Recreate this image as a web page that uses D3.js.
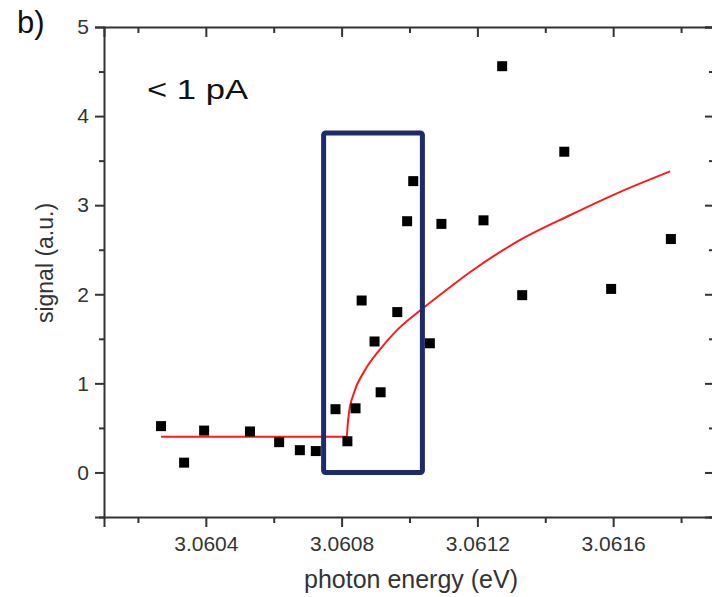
<!DOCTYPE html>
<html lang="en">
<head>
    <meta charset="UTF-8">
</head>
<style>
    body{
        margin:0;
        width:712px;
        height:597px;
        background:#fff;
        font-family:"Liberation Sans", Arial, sans-serif;
    }
    #chart{
        width:712px;
        height:597px;
        display:block;
    }
    .axis path, .axis line{
        stroke:#333;
        stroke-width:2;
    }
    .axis text{
        fill:#333;
        font-size:21px;
        font-family:"Liberation Sans", Arial, sans-serif;
    }
    .pt{
        fill:#000;
    }
</style>
<script src="https://d3js.org/d3.v7.min.js"></script>
<script>
    // measured points: photon energy (eV) and signal (a.u.)
    var energy = [3.060268, 3.060336, 3.060395, 3.060530, 3.060616, 3.060677, 3.060724,
        3.060782, 3.060817, 3.060841, 3.060859, 3.060897, 3.060915, 3.060964, 3.060993,
        3.061011, 3.061060, 3.061094, 3.061218, 3.061273, 3.061332, 3.061456, 3.061594, 3.061770];
    var signal = [0.52, 0.11, 0.47, 0.46, 0.34, 0.25, 0.24,
        0.71, 0.35, 0.72, 1.93, 1.47, 0.90, 1.80, 2.82,
        3.27, 1.45, 2.79, 2.83, 4.56, 1.99, 3.60, 2.06, 2.62];

    // fit curve
    var fitEnergy = [3.060268, 3.060815, 3.060818, 3.060821, 3.060836, 3.060866, 3.060915,
        3.060964, 3.061032, 3.061116, 3.061179, 3.061326, 3.061474, 3.061621, 3.061768];
    var fitSignal = [0.40, 0.40, 0.54, 0.65, 0.89, 1.13, 1.39,
        1.60, 1.82, 2.07, 2.25, 2.61, 2.89, 3.15, 3.38];

    // highlighted window
    var boxEnergy = [3.060747, 3.061038];
    var boxSignal = [0.0, 3.81];

    var xMajor = [3.0604, 3.0608, 3.0612, 3.0616];
    var xMinor = [3.0602, 3.0606, 3.0610, 3.0614, 3.0618];
    var yMajor = [0, 1, 2, 3, 4, 5];
    var yMinor = [-0.5, 0.5, 1.5, 2.5, 3.5, 4.5];

    function init() {
        var left = 104, right = 715, top = 27, bottom = 517;

        var svg = d3.select("#chart");

        var x = d3.scaleLinear().domain([3.0601, 3.0619]).range([left, right]);
        var y = d3.scaleLinear().domain([-0.5, 5]).range([bottom, top]);

        // bottom axis
        svg.append("g").attr("class", "axis")
            .attr("transform", "translate(0," + bottom + ")")
            .call(d3.axisBottom(x).tickValues(xMajor).tickSizeOuter(0).tickSize(10).tickPadding(9)
                .tickFormat(d3.format(".4f")));
        svg.append("g").attr("class", "axis")
            .attr("transform", "translate(0," + bottom + ")")
            .call(d3.axisBottom(x).tickValues(xMinor).tickSizeOuter(0).tickSize(6).tickFormat(""))
            .select(".domain").remove();

        // top axis, ticks inward
        svg.append("g").attr("class", "axis")
            .attr("transform", "translate(0," + top + ")")
            .call(d3.axisTop(x).tickValues(xMajor).tickSizeOuter(0).tickSize(-10).tickFormat(""));
        svg.append("g").attr("class", "axis")
            .attr("transform", "translate(0," + top + ")")
            .call(d3.axisTop(x).tickValues(xMinor).tickSizeOuter(0).tickSize(-6).tickFormat(""))
            .select(".domain").remove();

        // left axis
        svg.append("g").attr("class", "axis")
            .attr("transform", "translate(" + left + ",0)")
            .call(d3.axisLeft(y).tickValues(yMajor).tickSizeOuter(0).tickSize(9).tickPadding(6)
                .tickFormat(d3.format("d")));
        svg.append("g").attr("class", "axis")
            .attr("transform", "translate(" + left + ",0)")
            .call(d3.axisLeft(y).tickValues(yMinor).tickSizeOuter(0).tickSize(5).tickFormat(""))
            .select(".domain").remove();

        // right axis, ticks inward
        svg.append("g").attr("class", "axis")
            .attr("transform", "translate(" + right + ",0)")
            .call(d3.axisRight(y).tickValues(yMajor).tickSizeOuter(0).tickSize(-10).tickFormat(""));
        svg.append("g").attr("class", "axis")
            .attr("transform", "translate(" + right + ",0)")
            .call(d3.axisRight(y).tickValues(yMinor).tickSizeOuter(0).tickSize(-6).tickFormat(""))
            .select(".domain").remove();

        // fit line
        var fit = d3.range(fitEnergy.length).map(function(i) { return [fitEnergy[i], fitSignal[i]]; });
        svg.append("path")
            .datum(fit)
            .attr("fill", "none")
            .attr("stroke", "#ff1a1a")
            .attr("stroke-width", 2)
            .attr("d", d3.line()
                .x(function(d) { return x(d[0]); })
                .y(function(d) { return y(d[1]); })
                .curve(d3.curveMonotoneX));

        // points
        var pts = d3.range(energy.length).map(function(i) { return [energy[i], signal[i]]; });
        svg.selectAll(".pt")
            .data(pts)
            .enter().append("rect")
            .attr("class", "pt")
            .attr("x", function(d) { return x(d[0]) - 5; })
            .attr("y", function(d) { return y(d[1]) - 5; })
            .attr("width", 10)
            .attr("height", 10);

        // highlight box
        svg.append("rect")
            .attr("x", x(boxEnergy[0]))
            .attr("y", y(boxSignal[1]))
            .attr("width", x(boxEnergy[1]) - x(boxEnergy[0]))
            .attr("height", y(boxSignal[0]) - y(boxSignal[1]))
            .attr("rx", 2)
            .attr("fill", "none")
            .attr("stroke", "#1d2a6b")
            .attr("stroke-width", 5);

        // labels
        svg.append("text")
            .attr("x", 411).attr("y", 588)
            .attr("text-anchor", "middle")
            .attr("fill", "#333")
            .style("font-size", "25px")
            .text("photon energy (eV)");

        svg.append("text")
            .attr("transform", "translate(53,263) rotate(-90)")
            .attr("text-anchor", "middle")
            .attr("fill", "#333")
            .style("font-size", "23px")
            .text("signal (a.u.)");

        svg.append("text")
            .attr("x", 17).attr("y", 33)
            .attr("fill", "#111")
            .style("font-size", "31px")
            .text("b)");

        svg.append("text")
            .attr("x", 147).attr("y", 99)
            .attr("fill", "#111")
            .style("font-size", "27px")
            .attr("textLength", 101)
            .attr("lengthAdjust", "spacingAndGlyphs")
            .text("< 1 pA");
    }
    window.addEventListener("load", init);
</script>
<body>
<svg id="chart" width="712" height="597"></svg>
</body>
</html>
